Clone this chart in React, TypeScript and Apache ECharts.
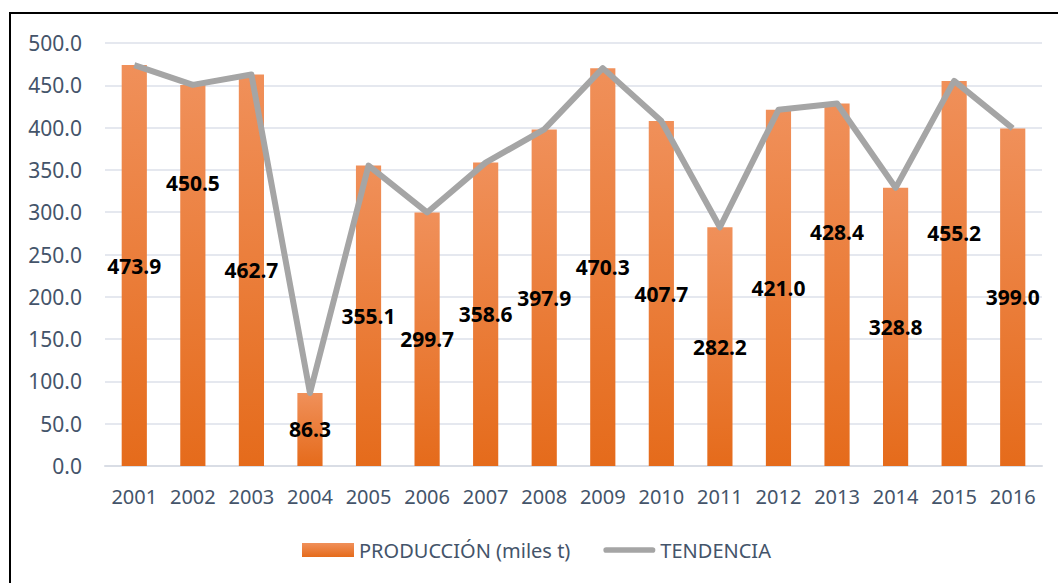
import React, { useEffect, useRef } from "react";
import * as echarts from "echarts";

const categories = ["2001","2002","2003","2004","2005","2006","2007","2008","2009","2010","2011","2012","2013","2014","2015","2016"];
const produccion = [473.9,450.5,462.7,86.3,355.1,299.7,358.6,397.9,470.3,407.7,282.2,421.0,428.4,328.8,455.2,399.0];
const tendencia = [473.9,450.5,462.7,86.3,355.1,299.7,358.6,397.9,470.3,407.7,282.2,421.0,428.4,328.8,455.2,399.0];
const yTicks = { min: 0, max: 500, interval: 50 };

// label vertical nudges (px) for a few labels moved manually in the original
const labelNudge: Record<number, number> = { 1: -92, 12: -53, 14: -40 };

const FONT = "'Noto Sans', sans-serif";
const AXIS_COLOR = "#44546A";
const LINE_ICON = "path://M3,0 L52,0 A3,3 0 0 1 52,6 L3,6 A3,3 0 0 1 3,0 Z";

export default function App() {
  const ref = useRef<HTMLDivElement>(null);
  useEffect(() => {
    document.body.style.margin = "0";
    const chart = echarts.init(ref.current!, null, { renderer: "svg" });
    const barColor = new echarts.graphic.LinearGradient(0, 0, 0, 1, [
      { offset: 0, color: "#F0905A" },
      { offset: 1, color: "#E56B1B" },
    ]);
    chart.setOption({
      animation: false,
      backgroundColor: "#ffffff",
      textStyle: { fontFamily: FONT },
      graphic: [
        {
          type: "rect",
          shape: { x: 10, y: 13, width: 1100, height: 700 },
          style: { fill: "none", stroke: "#000000", lineWidth: 2 },
          z: -10,
        },
      ],
      grid: { left: 105, right: 16, top: 43, bottom: 117, containLabel: false },
      legend: {
        bottom: 18,
        left: 297,
        itemWidth: 52,
        itemHeight: 14,
        itemGap: 33,
        textStyle: { color: AXIS_COLOR, fontSize: 20, fontFamily: FONT },
        data: [
          { name: "PRODUCCIÓN (miles t)", icon: "rect" },
          { name: "TENDENCIA", icon: LINE_ICON },
        ],
      },
      xAxis: {
        type: "category",
        data: categories,
        axisTick: { show: false },
        axisLine: { lineStyle: { color: "#D9DDE5", width: 2 } },
        axisLabel: { color: AXIS_COLOR, fontSize: 20, fontFamily: FONT, margin: 20, interval: 0 },
      },
      yAxis: {
        type: "value",
        min: yTicks.min,
        max: yTicks.max,
        interval: yTicks.interval,
        axisLine: { show: false },
        axisTick: { show: false },
        splitLine: { lineStyle: { color: "#DDE1EA", width: 1.5 } },
        axisLabel: {
          color: AXIS_COLOR,
          fontSize: 21,
          fontFamily: FONT,
          margin: 23,
          formatter: (v: number) => v.toFixed(1),
        },
      },
      series: [
        {
          name: "PRODUCCIÓN (miles t)",
          type: "bar",
          barWidth: "43%",
          itemStyle: { color: barColor },
          data: produccion.map((v, i) => ({
            value: v,
            label: labelNudge[i] !== undefined ? { offset: [0, labelNudge[i]] } : undefined,
          })),
          label: {
            show: true,
            position: "inside",
            color: "#000000",
            fontWeight: "bold",
            fontSize: 21,
            fontFamily: FONT,
            formatter: (p: any) => Number(p.value).toFixed(1),
          },
          z: 2,
        },
        {
          name: "TENDENCIA",
          type: "line",
          data: tendencia,
          symbol: "none",
          lineStyle: { color: "#A5A5A5", width: 6, join: "round" },
          itemStyle: { color: "#A5A5A5" },
          z: 3,
        },
      ],
    });
    return () => chart.dispose();
  }, []);
  return <div ref={ref} style={{ width: 1058, height: 583 }} />;
}
